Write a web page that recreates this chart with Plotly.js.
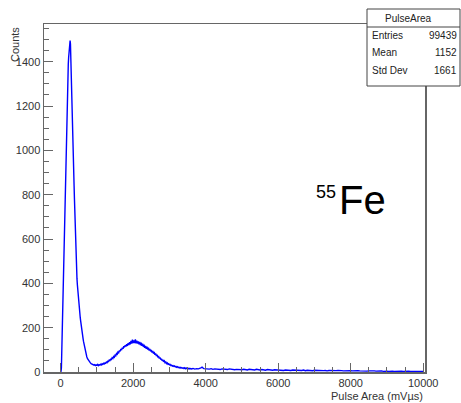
<!DOCTYPE html>
<html>
<head>
<meta charset="utf-8">
<script src="https://cdn.plot.ly/plotly-3.0.1.min.js"></script>
<style>html,body{margin:0;padding:0;background:#fff;}#chart{width:461px;height:403px;}</style>
</head>
<body>
<div id="chart"></div>
<script>
// Histogram "PulseArea": bin definitions and counts
const peakStart = 0, peakStep = 10;
const peakCounts = [0,3,18,90,240,360,410,440,500,560,620,690,760,850,950,1030,1110,1180,1240,1300,1350,1390,1420,1440,1460,1485,1495,1480,1400,1395,1330,1260,1190,1110,1040,970,900,840,780,715,660,600,550,500,455,420,395,370,345,325,305,290,270,258,245,232,215,205,190,178,168,158,148,138,128,118,108,100,92,85,78];

const midStart = 720, midStep = 20;
const midCounts = [69,60,54,48,44,41,38,36,34,35,31,33,29,32,30,34,29,33,31,35,32,37,34,39,36,41,39,45,42,49,47,54,52,58,56,64,61,70,67,76,73,83,80,90,87,97,93,104,99,110,105,116,111,121,115,125,118,130,122,134,125,140,128,146,131,143,130,147,129,141,128,138,125,136,121,132,118,128,113,123,109,118,105,114,101,110,97,104,93,100,88,95,83,90,78,84,72,78,66,72,61,66,56,60,51,55,46,50,42,45,38,41,35,37,32,34,29,31,27,29,25,27,23,25,21,24,20,22,19,21,18,20,17,19,16,19,15,18,15,17,14,17,14,16,14];

const tailStart = 3650, tailStep = 50;
const tailCounts = [16,13,15,14,17,22,15,14,16,13,15,12,14,13,15,11,14,12,13,11,14,12,13,10,12,11,13,10,12,11,9,12,10,11,9,12,10,9,11,10,8,11,9,10,8,10,9,8,10,9,7,9,8,10,7,9,8,7,9,8,7,9,6,8,7,8,6,8,7,6,8,7,6,7,5,7,6,7,5,6,7,5,6,5,6,7,5,6,5,6,4,6,5,4,6,5,4,5,6,4,5,4,5,4,5,3,5,4,3,5,4,3,4,5,3,4,3,4,3,4,3,2,4,3,2,3,2,3];

const statsTitle = "PulseArea";
const statsNames = ["Entries", "Mean", "Std Dev"];
const statsValues = ["99439", "1152", "1661"];
const xTitle = "Pulse Area (mV\u00b5s)";
const yTitle = "Counts";

function binsOf(start, step, counts) {
  return counts.map((_, i) => start + i * step);
}
const xs = [].concat(binsOf(peakStart, peakStep, peakCounts), binsOf(midStart, midStep, midCounts), binsOf(tailStart, tailStep, tailCounts));
const ys = [].concat(peakCounts, midCounts, tailCounts);

const W = 461, H = 403;
const L = 44, R = 425, T = 24, B = 372;
const px = v => (v - L) / (R - L);
const py = v => (B - v) / (B - T);

const font = 'Liberation Sans, Arial, sans-serif';
const axisCol = '#666';
const labCol = '#333';

const trace = {
  x: xs, y: ys, type: 'scatter', mode: 'lines',
  line: {color: '#0000ff', width: 1.4},
  hoverinfo: 'skip'
};

const annotations = [
  {text: yTitle, xref: 'paper', yref: 'paper', x: px(15), y: py(45), textangle: -90, showarrow: false, xanchor: 'center', yanchor: 'middle', font: {family: font, size: 11, color: labCol}},
  {text: xTitle, xref: 'paper', yref: 'paper', x: px(425), y: py(396), showarrow: false, xanchor: 'right', yanchor: 'middle', font: {family: font, size: 11, color: labCol}},
  {text: 'Fe', xref: 'paper', yref: 'paper', x: px(337), y: py(200), showarrow: false, xanchor: 'left', yanchor: 'middle', font: {family: font, size: 40, color: '#000'}},
  {text: '55', xref: 'paper', yref: 'paper', x: px(338), y: py(192), showarrow: false, xanchor: 'right', yanchor: 'middle', font: {family: font, size: 18, color: '#000'}},
  {text: statsTitle, xref: 'paper', yref: 'paper', x: px(408), y: py(18), showarrow: false, xanchor: 'center', yanchor: 'middle', font: {family: font, size: 10, color: '#222'}}
];
const rowY = [35, 52, 70];
statsNames.forEach((n, i) => {
  annotations.push({text: n, xref: 'paper', yref: 'paper', x: px(370), y: py(rowY[i]), showarrow: false, xanchor: 'left', yanchor: 'middle', font: {family: font, size: 10, color: '#222'}});
  annotations.push({text: statsValues[i], xref: 'paper', yref: 'paper', x: px(459), y: py(rowY[i]), showarrow: false, xanchor: 'right', yanchor: 'middle', font: {family: font, size: 10, color: '#222'}});
});

const shapes = [
  {type: 'rect', xref: 'paper', yref: 'paper', x0: px(367), x1: px(460), y0: py(86), y1: py(9), fillcolor: '#fff', line: {color: '#444', width: 1}, layer: 'above'},
  {type: 'line', xref: 'paper', yref: 'paper', x0: px(367), x1: px(460), y0: py(27), y1: py(27), line: {color: '#444', width: 1}, layer: 'above'}
];

const layout = {
  width: W, height: H,
  margin: {l: L, r: W - R, t: T, b: H - B, pad: 0},
  paper_bgcolor: '#fff', plot_bgcolor: '#fff',
  showlegend: false,
  xaxis: {
    range: [-460, 10050], tick0: 0, dtick: 2000, ticks: 'inside', ticklen: 9, tickwidth: 1, tickcolor: axisCol,
    minor: {dtick: 500, ticks: 'inside', ticklen: 5, tickcolor: axisCol, showgrid: false},
    showline: true, linecolor: axisCol, linewidth: 1.5, mirror: true,
    showgrid: false, zeroline: false, tickformat: 'd', exponentformat: 'none',
    tickfont: {family: font, size: 11, color: labCol}
  },
  yaxis: {
    range: [0, 1570], tick0: 0, dtick: 200, ticks: 'inside', ticklen: 9, tickwidth: 1, tickcolor: axisCol,
    minor: {dtick: 50, ticks: 'inside', ticklen: 5, tickcolor: axisCol, showgrid: false},
    showline: true, linecolor: axisCol, linewidth: 1.5, mirror: true,
    showgrid: false, zeroline: false, tickformat: 'd',
    tickfont: {family: font, size: 11, color: labCol}
  },
  annotations: annotations,
  shapes: shapes
};

Plotly.newPlot('chart', [trace], layout, {staticPlot: true, displayModeBar: false});
</script>
</body>
</html>
